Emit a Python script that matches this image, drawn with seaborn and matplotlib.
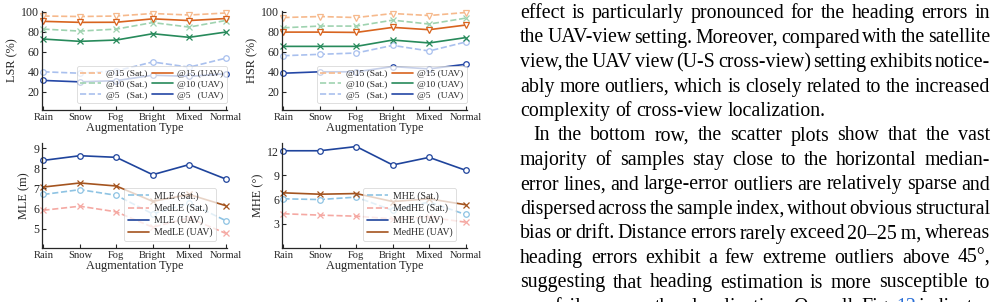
import numpy as np
import pandas as pd
import seaborn as sns
import matplotlib
matplotlib.use('Agg')
import matplotlib.pyplot as plt
from matplotlib.lines import Line2D

# ---- data ----
aug_types = ['Rain', 'Snow', 'Fog', 'Bright', 'Mixed', 'Normal']

lsr_15_sat = [95.5, 95.0, 95.5, 98.0, 96.5, 98.5]
lsr_15_uav = [90.2, 89.2, 89.3, 92.7, 91.0, 93.0]
lsr_10_sat = [82.5, 80.5, 82.5, 89.0, 84.5, 91.0]
lsr_10_uav = [72.6, 70.3, 71.6, 77.9, 74.3, 79.5]
lsr_5_sat = [40.0, 38.6, 40.9, 49.8, 44.6, 53.5]
lsr_5_uav = [31.4, 30.0, 31.2, 36.6, 35.5, 38.0]

hsr_15_sat = [94.0, 95.0, 94.0, 98.0, 96.0, 99.0]
hsr_15_uav = [79.5, 79.5, 79.2, 84.2, 81.9, 86.5]
hsr_10_sat = [83.8, 85.5, 85.5, 91.4, 87.5, 93.4]
hsr_10_uav = [65.3, 65.3, 65.3, 71.6, 68.7, 74.0]
hsr_5_sat = [56.0, 57.4, 58.7, 66.3, 60.7, 69.6]
hsr_5_uav = [38.6, 40.0, 40.0, 45.2, 42.9, 47.5]

mle_sat = [6.70, 6.94, 6.66, 5.74, 6.28, 5.41]
medle_sat = [5.92, 6.12, 5.84, 5.08, 5.54, 4.78]
mle_uav = [8.39, 8.62, 8.54, 7.68, 8.18, 7.47]
medle_uav = [7.07, 7.27, 7.12, 6.36, 6.70, 6.15]

mhe_sat = [6.09, 6.00, 6.30, 4.65, 5.70, 4.15]
medhe_sat = [4.24, 4.07, 3.94, 3.60, 3.80, 3.20]
mhe_uav = [12.04, 12.04, 12.56, 10.28, 11.22, 9.63]
medhe_uav = [6.83, 6.66, 6.74, 5.75, 6.09, 5.36]

sr_labels = ['@15 (Sat.)', '@10 (Sat.)', '@5   (Sat.)',
             '@15 (UAV)', '@10 (UAV)', '@5   (UAV)']
sr_colors = ['#f6b98c', '#9fd3b0', '#a9c0ee', '#d8641f', '#278a5b', '#2447a6']
sr_markers = ['v', 'x', 'o', 'v', 'x', 'o']
sr_dashed = [True, True, True, False, False, False]

mle_labels = ['MLE (Sat.)', 'MedLE (Sat.)', 'MLE (UAV)', 'MedLE (UAV)']
mhe_labels = ['MHE (Sat.)', 'MedHE (Sat.)', 'MHE (UAV)', 'MedHE (UAV)']
err_colors = ['#8ec3e3', '#f5a9a3', '#1f449c', '#a4541f']
err_markers = ['o', 'x', 'o', 'x']
err_dashed = [True, True, False, False]

body_lines = [
    'effect is particularly pronounced for the heading errors in',
    'the UAV-view setting. Moreover, compared with the satellite',
    'view, the UAV view (U-S cross-view) setting exhibits notice-',
    'ably more outliers, which is closely related to the increased',
    'complexity of cross-view localization.',
    'In the bottom row, the scatter plots show that the vast',
    'majority of samples stay close to the horizontal median-',
    'error lines, and large-error outliers are relatively sparse and',
    'dispersed across the sample index, without obvious structural',
    'bias or drift. Distance errors rarely exceed 20\u201325\u2009m, whereas',
    'heading errors exhibit a few extreme outliers above 45\u00b0,',
    'suggesting that heading estimation is more susceptible to',
    'rare failure cases than localization. Overall, Fig. 12 indicates',
]

sns.set_style('ticks')
serif = ['Liberation Serif', 'DejaVu Serif']
plt.rcParams['font.family'] = serif
plt.rcParams['xtick.direction'] = 'in'
plt.rcParams['ytick.direction'] = 'in'

W, H = 1001, 302
fig = plt.figure(figsize=(W / 100, H / 100), dpi=100)


def draw_panel(rect, series, labels, colors, markers, dashed, ylim, yticks,
               ylabel, leg_anchor, ncol, leg_fs):
    ax = fig.add_axes(rect)
    x = np.arange(len(aug_types))
    for vals, lab, c, m, d in zip(series, labels, colors, markers, dashed):
        df = pd.DataFrame({'x': x, 'y': vals})
        sns.lineplot(data=df, x='x', y='y', ax=ax, color=c, lw=1.2,
                     linestyle='--' if d else '-', marker=m, ms=4,
                     mfc='white' if m != 'x' else c, mec=c, mew=0.9,
                     clip_on=False)
    ax.set_xlim(-0.04, len(aug_types) - 1 + 0.04)
    ax.set_xticks(x)
    ax.set_xticklabels(aug_types)
    ax.set_ylim(*ylim)
    ax.set_yticks(yticks)
    ax.tick_params(axis='x', labelsize=7.6, length=3, width=0.8, pad=2)
    ax.tick_params(axis='y', labelsize=8.6, length=3, width=0.8, pad=2)
    ax.set_xlabel('Augmentation Type', fontsize=8.8, labelpad=0)
    ax.set_ylabel(ylabel, fontsize=8.8, labelpad=2)
    for s in ['top', 'right']:
        ax.spines[s].set_visible(False)
    for s in ['left', 'bottom']:
        ax.spines[s].set_linewidth(0.9)
    handles = [Line2D([], [], color=c, lw=1.2, linestyle='--' if d else '-')
                for c, d in zip(colors, dashed)]
    leg = ax.legend(handles, labels, loc='lower right',
                    bbox_to_anchor=leg_anchor, ncol=ncol, fontsize=leg_fs,
                    frameon=True, framealpha=0.75, edgecolor='#cccccc',
                    handlelength=2.2, handletextpad=0.5, columnspacing=0.5,
                    labelspacing=0.25, borderpad=0.35, borderaxespad=0)
    leg.get_frame().set_linewidth(0.6)
    return ax


top_h = 99 / H
top_y = 1 - 110 / H
bot_h = 105 / H
bot_y = 1 - 248 / H
pw = 185 / W

draw_panel([42 / W, top_y, pw, top_h],
           [lsr_15_sat, lsr_10_sat, lsr_5_sat, lsr_15_uav, lsr_10_uav, lsr_5_uav],
           sr_labels, sr_colors, sr_markers, sr_dashed,
           (2, 100.5), [20, 40, 60, 80, 100], 'LSR (%)', (1.0, 0.07), 2, 6.8)
draw_panel([282 / W, top_y, pw, top_h],
           [hsr_15_sat, hsr_10_sat, hsr_5_sat, hsr_15_uav, hsr_10_uav, hsr_5_uav],
           sr_labels, sr_colors, sr_markers, sr_dashed,
           (2, 100.5), [20, 40, 60, 80, 100], 'HSR (%)', (1.0, 0.07), 2, 6.8)
draw_panel([42 / W, bot_y, pw, bot_h],
           [mle_sat, medle_sat, mle_uav, medle_uav],
           mle_labels, err_colors, err_markers, err_dashed,
           (4.05, 9.25), [5, 6, 7, 8, 9], 'MLE (m)', (0.94, 0.07), 1, 7.0)
draw_panel([282 / W, bot_y, pw, bot_h],
           [mhe_sat, medhe_sat, mhe_uav, medhe_uav],
           mhe_labels, err_colors, err_markers, err_dashed,
           (0, 13), [3, 6, 9, 12], 'MHE (\u00b0)', (0.94, 0.07), 1, 7.0)

# ---- body text on the right, justified word by word ----
renderer = fig.canvas.get_renderer()
x_left, x_right, indent = 520, 990, 533
base0, lead = 18, 24.5
plain_last = {4}
indented = {5}


def word_widths(words, fs):
    ws = []
    for w in words:
        t = fig.text(0, 0, w, fontsize=fs, family=serif)
        ws.append(t.get_window_extent(renderer).width)
        t.remove()
    return ws


pair = word_widths(['a b', 'ab'], 10)
space_w = pair[0] - pair[1]
nat = []
for i, line in enumerate(body_lines):
    if i in plain_last:
        continue
    words = line.split(' ')
    avail = x_right - (indent if i in indented else x_left)
    nat.append((sum(word_widths(words, 10)) + space_w * (len(words) - 1)) / avail)
body_fs = 10 / max(nat) * 1.04

for i, line in enumerate(body_lines):
    words = line.split(' ')
    ws = word_widths(words, body_fs)
    x0 = indent if i in indented else x_left
    if i in plain_last:
        gap = space_w * body_fs / 10
    else:
        gap = (x_right - x0 - sum(ws)) / (len(words) - 1)
    y = H - (base0 + i * lead)
    xp = x0
    for w, wd in zip(words, ws):
        col = '#2b6fd6' if w == '12' else 'black'
        fig.text(xp / W, y / H, w, fontsize=body_fs, family=serif,
                 color=col, va='baseline', ha='left')
        xp += wd + gap

fig.savefig('out.png', dpi=100)
